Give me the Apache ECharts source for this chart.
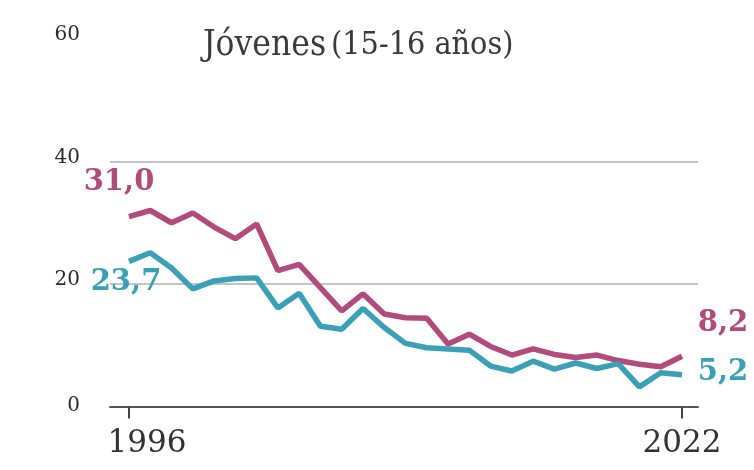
<!DOCTYPE html>
<html>
<head>
<meta charset="utf-8">
<script src="https://cdn.jsdelivr.net/npm/echarts@6/dist/echarts.min.js"></script>
<style>
html,body{margin:0;padding:0;background:#fff;}
#c{width:754px;height:470px;}
</style>
</head>
<body>
<div id="c"></div>
<script>
const years = [1996,1997,1998,1999,2000,2001,2002,2003,2004,2005,2006,2007,2008,2009,2010,2011,2012,2013,2014,2015,2016,2017,2018,2019,2020,2021,2022];
const seriesA = [31.0,32.0,30.0,31.6,29.3,27.4,29.8,22.2,23.2,19.4,15.6,18.4,15.1,14.5,14.4,10.2,11.8,9.8,8.4,9.4,8.5,8.0,8.4,7.5,6.9,6.5,8.2];
const seriesB = [23.7,25.1,22.6,19.2,20.5,20.9,21.0,16.1,18.5,13.1,12.6,16.0,12.9,10.3,9.6,9.4,9.2,6.6,5.8,7.4,6.1,7.1,6.2,7.0,3.2,5.5,5.2];
const yTicks = [0,20,40,60];
const xTicks = [1996,2022];
const titleMain = 'Jóvenes';
const titleSub = '(15-16 años)';

const colA = '#b24a7b';
const colB = '#3aa0b7';
const serif = '"DejaVu Serif", serif';
const serifC = '"DejaVu Serif Condensed", "DejaVu Serif", serif';

function fmt(v){ return v.toFixed(1).replace('.', ','); }

function build(vals, col, firstOff, lastOff){
  return vals.map((v,i)=>{
    const item = {value:[years[i], v]};
    if (i === 0 || i === vals.length-1) {
      item.label = {
        show:true, position:'inside',
        offset: i===0 ? firstOff : lastOff,
        formatter: fmt(v),
        color: col, fontFamily: serif, fontWeight:'bold', fontSize:29
      };
    }
    return item;
  });
}

const chart = echarts.init(document.getElementById('c'), null, {renderer:'canvas'});
chart.setOption({
  animation:false,
  backgroundColor:'#fff',
  title:{
    left:198, top:23,
    text:'{a|' + titleMain + '} {b|' + titleSub + '}',
    textStyle:{
      fontWeight:'normal',
      rich:{
        a:{fontFamily:serifC, fontWeight:'normal', fontSize:35, color:'#3a3a3a'},
        b:{fontFamily:serifC, fontWeight:'normal', fontSize:32, color:'#3a3a3a'}
      }
    }
  },
  grid:{left:110, right:56, top:39, bottom:63.5},
  xAxis:{
    type:'value', min:1995.107, max:2022.752,
    axisLine:{show:true, lineStyle:{color:'#555', width:2}},
    axisTick:{show:true, customValues:xTicks, length:12, lineStyle:{color:'#444', width:2}},
    axisLabel:{
      customValues:xTicks, margin:22,
      formatter:(v)=> v===1996 ? '{p|'+v+'}' : '{q|'+v+'}',
      rich:{
        p:{fontFamily:serif, fontSize:31, color:'#333', padding:[0,0,0,36]},
        q:{fontFamily:serif, fontSize:31, color:'#333'}
      }
    },
    splitLine:{show:false}
  },
  yAxis:{
    type:'value', min:0, max:60, interval:20,
    axisLine:{show:false}, axisTick:{show:false},
    axisLabel:{
      margin:30, customValues:yTicks,
      formatter:(v)=> v===0 ? '{z|'+v+'}' : '{v|'+v+'}',
      rich:{
        v:{fontFamily:serif, fontSize:20, color:'#2a2a2a', padding:[0,0,8,0]},
        z:{fontFamily:serif, fontSize:20, color:'#2a2a2a', padding:[0,0,2,0]}
      }
    },
    splitLine:{show:true, showMinLine:false, showMaxLine:false, lineStyle:{color:'#c4c4c4', width:2}}
  },
  series:[
    {
      type:'line', data: build(seriesA, colA, [-10,-34], [41,-33]),
      showSymbol:true, symbol:'circle', symbolSize:0,
      lineStyle:{color:colA, width:5.5}, itemStyle:{color:colA},
      z:2
    },
    {
      type:'line', data: build(seriesB, colB, [-3,21], [41,-2]),
      showSymbol:true, symbol:'circle', symbolSize:0,
      lineStyle:{color:colB, width:5.5}, itemStyle:{color:colB},
      z:3
    }
  ]
});
</script>
</body>
</html>
